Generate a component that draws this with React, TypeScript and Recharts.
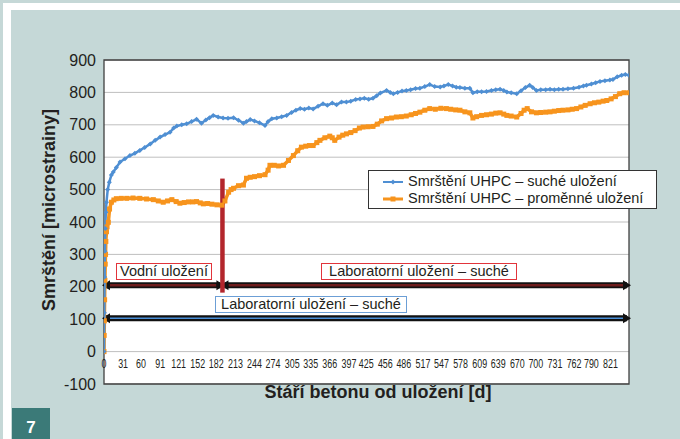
import { LineChart, Line, XAxis, YAxis, CartesianGrid, ReferenceLine, ReferenceArea } from 'recharts';

// days since casting / shrinkage in microstrain
const DRY_DAYS = [
  0, 0.5, 1, 1.5, 2, 3, 4, 6, 8.6, 12, 15, 20, 26, 34, 42, 50, 58, 66, 75, 83, 91, 99, 107, 113, 118, 126, 134,
  142, 150, 158, 165, 171, 177, 185, 193, 201, 210, 218, 226, 231, 237, 244, 252, 261, 266, 272, 280, 288, 296,
  304, 311, 318, 325, 332, 339, 347, 355, 362, 370, 377, 385, 393, 400, 408, 415, 422, 429, 436, 442, 448, 458,
  464, 469, 476, 483, 490, 497, 505, 512, 520, 528, 536, 545, 551, 558, 565, 571, 577, 585, 593, 598, 605, 612,
  620, 628, 635, 642, 648, 653, 660, 669, 676, 683, 690, 695, 701, 708, 716, 723, 730, 737, 744, 752, 761, 770,
  777, 782, 790, 797, 804, 812, 820, 825, 832, 839, 845, 851,
];
const DRY_VALUES = [
  0, 120, 230, 310, 380, 430, 461, 500, 523, 545, 554, 568, 585, 595, 605, 612, 621, 630, 641, 652, 662, 670, 677,
  690, 696, 700, 703, 710, 717, 705, 715, 722, 729, 724, 721, 720, 722, 714, 705, 710, 716, 712, 706, 698, 710,
  719, 721, 725, 729, 738, 745, 750, 748, 752, 749, 757, 765, 760, 767, 762, 770, 770, 773, 778, 780, 782, 779,
  782, 790, 798, 806, 800, 796, 800, 804, 806, 808, 812, 813, 818, 824, 818, 817, 820, 824, 820, 816, 815, 813,
  813, 799, 802, 802, 803, 806, 808, 810, 806, 801, 799, 796, 805, 815, 822, 815, 806, 808, 808, 810, 808, 810,
  810, 811, 813, 816, 820, 822, 826, 830, 834, 836, 838, 840, 848, 853, 855, 853,
];

const VAR_DAYS = [
  0, 0.3, 0.6, 1, 1.5, 2, 2.5, 3, 4, 5, 7, 9, 12, 16, 20, 28, 37, 47, 58, 69, 80, 88, 96, 103, 110, 117, 123, 130,
  137, 144, 150, 156, 161, 168, 175, 183, 191, 196, 202, 206, 210, 218, 226, 231, 237, 244, 252, 261, 266, 269,
  276, 283, 291, 299, 307, 314, 320, 327, 333, 339, 345, 350, 358, 366, 370, 374, 381, 387, 393, 400, 407, 414,
  420, 428, 436, 443, 450, 458, 466, 474, 482, 490, 498, 505, 512, 520, 528, 537, 546, 555, 562, 570, 577, 585,
  593, 598, 604, 612, 620, 628, 635, 642, 648, 653, 660, 669, 676, 681, 686, 693, 701, 708, 716, 723, 730, 737,
  744, 752, 759, 766, 773, 780, 788, 795, 802, 809, 815, 822, 829, 836, 843, 851,
];
const VAR_VALUES = [
  0, 50, 95, 160, 220, 270, 300, 340, 370, 385, 399, 440, 461, 468, 472, 473, 473, 474, 473, 471, 469, 465, 461,
  465, 469, 463, 458, 460, 462, 462, 463, 459, 456, 457, 455, 453, 452, 465, 492, 500, 504, 512, 514, 535, 538,
  540, 543, 546, 560, 575, 575, 573, 575, 590, 605, 620, 631, 634, 636, 636, 645, 652, 660, 665, 660, 652, 662,
  668, 672, 676, 682, 690, 693, 694, 695, 702, 712, 719, 721, 724, 725, 727, 731, 735, 739, 745, 750, 748, 751,
  750, 748, 746, 745, 740, 737, 721, 725, 729, 731, 733, 736, 737, 733, 729, 727, 724, 735, 745, 750, 740, 737,
  738, 739, 740, 742, 744, 745, 746, 748, 750, 755, 760, 765, 768, 770, 773, 775, 780, 787, 796, 799, 799,
];

const X_TICKS = [
  0, 31, 60, 91, 121, 152, 182, 213, 244, 274, 305, 335, 366, 397, 425, 456, 486, 517, 547, 578, 609, 639, 670,
  700, 731, 762, 790, 821,
];
const Y_TICKS = [-100, 0, 100, 200, 300, 400, 500, 600, 700, 800, 900];

const LAST_DAY = 851;
const SWITCH_DAY = 192;
const SWITCH_BAR = [182, 534];
const STORAGE_LEVEL = 205;
const DRY_LEVEL = 103;

const BLUE = '#4f8fd3';
const ORANGE = '#f7941d';
const FONT = '"Liberation Sans", Arial, Helvetica, sans-serif';

const dryData = DRY_DAYS.map((d, i) => ({ day: d, v: DRY_VALUES[i] }));
const varData = VAR_DAYS.map((d, i) => ({ day: d, v: VAR_VALUES[i] }));

const diamond = (p: any) => (
  <polygon
    key={`d${p.index}`}
    points={`${p.cx},${p.cy - 2.5} ${p.cx + 2.5},${p.cy} ${p.cx},${p.cy + 2.5} ${p.cx - 2.5},${p.cy}`}
    fill={BLUE}
  />
);
const square = (p: any) => (
  <rect key={`s${p.index}`} x={p.cx - 2.5} y={p.cy - 2.5} width={5} height={5} fill={ORANGE} />
);

function arrow(inner: string, innerWidth: number) {
  return (p: any) => {
    const y = p.y1;
    const a = Math.min(p.x1, p.x2) - 2;
    const b = Math.max(p.x1, p.x2) + 2;
    const head = 8;
    const hh = 5;
    return (
      <g>
        <line x1={a + 4} x2={b - 4} y1={y} y2={y} stroke="#111" strokeWidth={6} />
        <line x1={a + head} x2={b - head} y1={y} y2={y} stroke={inner} strokeWidth={innerWidth} />
        <polygon points={`${a},${y} ${a + head},${y - hh} ${a + head},${y + hh}`} fill="#111" />
        <polygon points={`${b},${y} ${b - head},${y - hh} ${b - head},${y + hh}`} fill="#111" />
      </g>
    );
  };
}

const XTick = (props: any) => {
  const { x, y, payload } = props;
  return (
    <g transform={`translate(${x},${y - 24})`}>
      <text
        x={0}
        y={0}
        textAnchor="middle"
        fill="#231f20"
        fontSize={13.5}
        fontFamily={FONT}
        transform="scale(0.66 1)"
      >
        {payload.value}
      </text>
    </g>
  );
};

const boxStyle = (left: number, top: number, width: number, color: string): React.CSSProperties => ({
  position: 'absolute',
  left,
  top,
  width,
  height: 17,
  boxSizing: 'border-box',
  border: `1px solid ${color}`,
  background: '#fff',
  fontSize: 14.5,
  lineHeight: '15px',
  textAlign: 'center',
  color: '#231f20',
  fontFamily: FONT,
  whiteSpace: 'nowrap',
});

export default function App() {
  return (
    <div
      style={{ position: 'absolute', left: 0, top: 0, width: 680, height: 439, background: '#c5d8d7', overflow: 'hidden', fontFamily: FONT }}
    >
      <div style={{ position: 'absolute', left: 3, top: 3, width: 677, height: 7, background: '#fff' }} />
      <div style={{ position: 'absolute', left: 3, top: 3, width: 8, height: 436, background: '#fff' }} />
      <div
        style={{
          position: 'absolute', left: 12, top: 408, width: 38, height: 31, background: '#3b7a78',
          color: '#fff', fontWeight: 'bold', fontSize: 17, textAlign: 'center', lineHeight: '40px',
        }}
      >
        7
      </div>

      <div style={{ position: 'absolute', left: 0, top: 0 }}>
        <LineChart width={680} height={439} margin={{ top: 60, right: 51, bottom: 25, left: 0 }}>
          <CartesianGrid vertical={false} stroke="#bfbfbf" fill="#fff" />
          <XAxis
            type="number"
            dataKey="day"
            domain={[0, LAST_DAY]}
            ticks={X_TICKS}
            interval={0}
            height={30}
            axisLine={false}
            tickLine={false}
            tick={XTick}
            allowDataOverflow
          />
          <YAxis
            type="number"
            domain={[-100, 900]}
            ticks={Y_TICKS}
            interval={0}
            width={104}
            axisLine={false}
            tickLine={false}
            tick={{ fontSize: 16, fill: '#231f20', fontFamily: FONT }}
          />
          <ReferenceArea x1={0} x2={LAST_DAY} y1={-100} y2={900} fill="none" stroke="#404040" strokeWidth={1.3} />
          <ReferenceLine
            segment={[{ x: 0, y: STORAGE_LEVEL }, { x: SWITCH_DAY, y: STORAGE_LEVEL }]}
            shape={arrow('#6e1c1c', 2.5)}
          />
          <ReferenceLine
            segment={[{ x: SWITCH_DAY, y: STORAGE_LEVEL }, { x: LAST_DAY, y: STORAGE_LEVEL }]}
            shape={arrow('#6e1c1c', 2.5)}
          />
          <ReferenceLine
            segment={[{ x: 0, y: DRY_LEVEL }, { x: LAST_DAY, y: DRY_LEVEL }]}
            shape={arrow('#4a8fd8', 1.5)}
          />
          <Line
            data={varData}
            dataKey="v"
            type="linear"
            stroke={ORANGE}
            strokeWidth={3.5}
            dot={square}
            activeDot={false}
            isAnimationActive={false}
          />
          <Line
            data={dryData}
            dataKey="v"
            type="linear"
            stroke={BLUE}
            strokeWidth={2.5}
            dot={diamond}
            activeDot={false}
            isAnimationActive={false}
          />
          <ReferenceLine
            segment={[{ x: SWITCH_DAY, y: SWITCH_BAR[0] }, { x: SWITCH_DAY, y: SWITCH_BAR[1] }]}
            stroke="#b3262c"
            strokeWidth={4.5}
          />
        </LineChart>
      </div>

      <div style={boxStyle(116, 263, 96, '#e2343b')}>Vodní uložení</div>
      <div style={boxStyle(321, 263, 196, '#e2343b')}>Laboratorní uložení – suché</div>
      <div style={boxStyle(215, 296, 192, '#6c9fd6')}>Laboratorní uložení – suché</div>

      <div
        style={{
          position: 'absolute', left: 368, top: 170, width: 289, height: 39, boxSizing: 'border-box',
          border: '1px solid #333', background: '#fff', fontSize: 14.5, color: '#231f20',
        }}
      >
        {[
          { name: 'Smrštění UHPC – suché uložení', color: BLUE, sq: false },
          { name: 'Smrštění UHPC – proměnné uložení', color: ORANGE, sq: true },
        ].map((it, i) => (
          <div key={i} style={{ position: 'absolute', left: 0, top: 2 + i * 17, height: 17, lineHeight: '17px', whiteSpace: 'nowrap' }}>
            <svg width={40} height={17} style={{ position: 'absolute', left: 10, top: 0 }}>
              <line x1={4} x2={24} y1={9} y2={9} stroke={it.color} strokeWidth={it.sq ? 3 : 2} />
              {it.sq ? (
                <rect x={11.5} y={6.5} width={5} height={5} fill={it.color} />
              ) : (
                <polygon points="14,6.5 16.5,9 14,11.5 11.5,9" fill={it.color} />
              )}
            </svg>
            <span style={{ position: 'absolute', left: 39 }}>{it.name}</span>
          </div>
        ))}
      </div>

      <div
        style={{
          position: 'absolute', left: 228, top: 382, width: 300, textAlign: 'center', fontWeight: 'bold',
          fontSize: 18, color: '#231f20', lineHeight: '20px', whiteSpace: 'nowrap',
        }}
      >
        Stáří betonu od uložení [d]
      </div>
      <div
        style={{
          position: 'absolute', left: 49 - 130, top: 210 - 10, width: 260, height: 20, textAlign: 'center',
          fontWeight: 'bold', fontSize: 18, color: '#231f20', lineHeight: '20px', whiteSpace: 'nowrap',
          transform: 'rotate(-90deg)',
        }}
      >
        Smrštění [microstrainy]
      </div>
    </div>
  );
}
